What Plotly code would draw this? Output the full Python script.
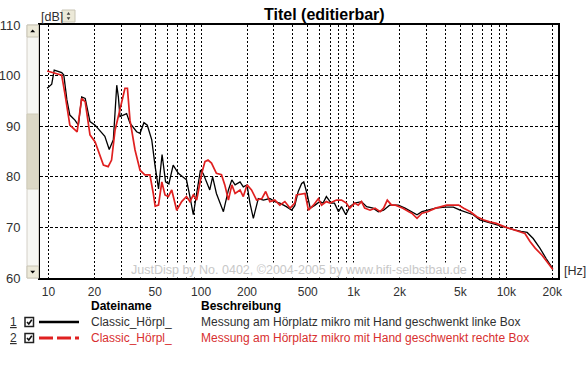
import plotly.graph_objects as go

# ---- data ----
freq_black = [9.8, 10.5, 10.9, 12.2, 12.6, 13.2, 13.8, 14.9, 15.7, 16.5, 17.4, 18.7, 20.2, 21.7, 23.4, 25.0,
              26.6, 28.0, 28.7, 29.4, 32.5, 34.2, 37.8, 39.8, 42.2, 44.4, 47.5, 50.0, 52.6, 55.5, 58.5, 61.5,
              65.6, 70.9, 76.5, 80.2, 84.5, 88.9, 93.5, 99.0, 103, 108.7, 114, 119, 126, 140, 151, 159, 167,
              180, 189, 200, 209, 220, 237, 256, 282, 304, 328, 362, 392, 411, 433, 456, 471, 494, 519, 558,
              600, 630, 662, 712, 748, 795, 832, 888, 942, 1015, 1125, 1215, 1340, 1450, 1570, 1720, 1960,
              2170, 2400, 2600, 2800, 3050, 3440, 3970, 4500, 4980, 5500, 6070, 6700, 7780, 8800, 9950,
              11300, 12500, 13700, 15000, 16600, 18200, 20100]
db_black = [97.5, 98.3, 101.1, 100.6, 100.1, 95.2, 92.2, 91.2, 90.2, 95.8, 95.5, 90.9, 90.2, 89.2, 88.0, 85.4,
            87.3, 98.1, 95.8, 91.9, 92.5, 90.6, 88.9, 88.6, 90.7, 90.2, 87.3, 82.0, 77.6, 84.4, 79.0, 78.6,
            82.3, 80.7, 80.0, 79.4, 76.1, 72.5, 76.7, 81.3, 80.7, 79.0, 77.4, 80.0, 76.7, 73.1, 77.4, 79.4, 78.4,
            79.0, 78.0, 78.4, 74.8, 71.8, 75.7, 75.4, 75.7, 75.1, 74.8, 74.1, 73.4, 74.3, 77.1, 78.7, 79.0, 76.7,
            73.8, 74.4, 75.1, 74.8, 76.1, 74.8, 74.8, 73.1, 74.1, 72.5, 74.1, 74.8, 75.1, 74.1, 73.8, 73.1, 73.4,
            74.4, 74.4, 73.8, 73.1, 72.5, 73.1, 73.4, 73.8, 74.0, 74.0, 73.4, 72.9, 72.5, 71.5, 70.9, 70.5, 70.0,
            69.5, 69.2, 69.0, 67.8, 65.9, 63.9, 61.9]

freq_red = [9.8, 12.2, 12.8, 13.8, 15.4, 16.5, 17.4, 18.7, 20.2, 21.7, 22.9, 24.6, 25.9, 27.3, 29.4, 31.7,
            32.9, 34.2, 36.9, 39.8, 42.8, 46.2, 48.6, 50.0, 52.6, 55.3, 58.0, 61.0, 64.2, 69.2, 74.6, 80.2,
            84.5, 88.9, 93.5, 101, 106, 111, 117, 126, 136, 143, 151, 159, 167, 180, 189, 200, 214, 231, 250,
            265, 282, 304, 328, 354, 383, 411, 421, 480, 505, 545, 587, 616, 662, 700, 770, 832, 895, 942,
            1015, 1070, 1125, 1180, 1280, 1380, 1490, 1570, 1660, 1770, 1880, 2100, 2300, 2400, 2600, 2800,
            3050, 3440, 4080, 4870, 5260, 5810, 6410, 7060, 7780, 8600, 9770, 11070, 11900, 13250, 14300,
            15460, 17150, 18950, 20200]
db_red = [100.9, 100.1, 96.5, 90.2, 88.9, 95.5, 94.8, 88.3, 86.9, 84.3, 82.3, 82.0, 83.3, 89.2, 93.2, 97.5,
          97.5, 91.2, 85.3, 81.3, 80.4, 80.4, 76.7, 74.2, 74.4, 79.0, 76.4, 76.1, 77.4, 73.4, 75.1, 76.1,
          75.1, 76.4, 75.4, 80.7, 83.0, 83.3, 82.7, 80.7, 80.4, 78.4, 75.4, 78.4, 76.7, 77.4, 76.1, 78.4, 77.4,
          75.4, 75.7, 77.1, 75.1, 75.4, 74.4, 75.1, 73.8, 74.8, 76.4, 76.7, 73.4, 74.4, 75.7, 74.4, 75.1, 74.8,
          75.4, 75.4, 74.8, 73.8, 74.8, 74.4, 75.1, 73.8, 73.4, 73.8, 73.1, 73.8, 75.4, 74.4, 74.4, 73.8, 73.1,
          72.8, 71.8, 72.8, 73.1, 73.8, 74.4, 74.4, 73.8, 73.1, 72.1, 71.5, 71.1, 70.8, 70.1, 69.6, 69.3, 68.8,
          67.2, 65.9, 64.5, 62.8, 61.7]

grid_freqs = [m * 10 ** d for d in range(1, 5) for m in range(1, 10) if m * 10 ** d <= 20000]
label_map = {10: "10", 20: "20", 50: "50", 100: "100", 200: "200", 500: "500", 1000: "1k",
             2000: "2k", 5000: "5k", 10000: "10k", 20000: "20k"}
x_ticktext = [label_map.get(f, "") for f in grid_freqs]
y_ticks = [60, 70, 80, 90, 100, 110]

title_text = "Titel (editierbar)"
watermark = "JustDisp by No. 0402, \u00a92004-2005 by www.hifi-selbstbau.de"
col_head = ["Dateiname", "Beschreibung"]
names = ["Classic_H\u00f6rpl_", "Classic_H\u00f6rpl_"]
descs = ["Messung am H\u00f6rplatz mikro mit Hand geschwenkt linke Box",
         "Messung am H\u00f6rplatz mikro mit Hand geschwenkt rechte Box"]

# ---- layout geometry (pixels) ----
W, H = 587, 366
L, R, T, B = 40, 558, 25, 278
def px(x):
    return (x - L) / (R - L)
def py(y):
    return (B - y) / (B - T)

FONT = "Liberation Sans, Arial, sans-serif"
BLACK = "#000000"
RED = "#e02020"
TXT = "#303030"
TXTRED = "#d83030"

fig = go.Figure()
fig.add_trace(go.Scatter(x=freq_black, y=db_black, mode="lines",
                         line=dict(color=BLACK, width=1.3), hoverinfo="skip", showlegend=False))
fig.add_trace(go.Scatter(x=freq_red, y=db_red, mode="lines",
                         line=dict(color=RED, width=1.7), hoverinfo="skip", showlegend=False))

x0 = 1 + (L - 48.5) / 152.6
x1 = 1 + (R - 48.5) / 152.6

fig.update_layout(
    width=W, height=H,
    margin=dict(l=L, r=W - R, t=T, b=H - B, pad=0),
    paper_bgcolor="white", plot_bgcolor="white",
    font=dict(family=FONT, color=TXT, size=12),
    xaxis=dict(type="log", range=[x0, x1], tickvals=grid_freqs, ticktext=x_ticktext,
               showgrid=True, gridcolor="#000000", gridwidth=1, griddash="2px,2px",
               ticks="", showline=True, linecolor="black", linewidth=2, mirror=True,
               tickfont=dict(size=12, color=TXT), ticklabelstandoff=2, zeroline=False,
               automargin=False),
    yaxis=dict(range=[60, 110], tickvals=y_ticks, showgrid=True, gridcolor="#000000",
               gridwidth=1, griddash="3px,2px", ticks="", showline=True, linecolor="black",
               linewidth=2, mirror=True, tickfont=dict(size=13, color=TXT),
               ticklabelstandoff=15, zeroline=False, automargin=False),
)

shapes = []
# scrollbar on the left of the plot
shapes.append(dict(type="rect", xref="paper", yref="paper", x0=px(27), x1=px(38.5), y0=py(278), y1=py(25),
                   fillcolor="#f7f7f3", line=dict(color="#d4d0c8", width=1), layer="above"))
shapes.append(dict(type="rect", xref="paper", yref="paper", x0=px(27), x1=px(38.5), y0=py(189), y1=py(114),
                   fillcolor="#dcd8c6", line=dict(color="#cfcbb8", width=1), layer="above"))
for (ya, yb) in [(25, 37), (266, 278)]:
    shapes.append(dict(type="rect", xref="paper", yref="paper", x0=px(27), x1=px(38.5), y0=py(yb), y1=py(ya),
                       fillcolor="#ece9d8", line=dict(color="#c8c4b4", width=1), layer="above"))
def tri(cx, cy, up, s=2.5):
    if up:
        pts = [(cx - s, cy + 1.2), (cx + s, cy + 1.2), (cx, cy - 1.6)]
    else:
        pts = [(cx - s, cy - 1.2), (cx + s, cy - 1.2), (cx, cy + 1.6)]
    return "M " + " L ".join(f"{px(a):.5f},{py(b):.5f}" for a, b in pts) + " Z"
shapes.append(dict(type="path", xref="paper", yref="paper", path=tri(32.7, 31, True),
                   fillcolor="black", line=dict(width=0), layer="above"))
shapes.append(dict(type="path", xref="paper", yref="paper", path=tri(32.7, 272, False),
                   fillcolor="black", line=dict(width=0), layer="above"))
# spinner next to [dB]
shapes.append(dict(type="rect", xref="paper", yref="paper", x0=px(62), x1=px(75), y0=py(22), y1=py(10),
                   fillcolor="#ece9d8", line=dict(color="#c8c4b4", width=1), layer="above"))
shapes.append(dict(type="path", xref="paper", yref="paper", path=tri(68.5, 13.5, True, 1.8),
                   fillcolor="#404040", line=dict(width=0), layer="above"))
shapes.append(dict(type="path", xref="paper", yref="paper", path=tri(68.5, 18.5, False, 1.8),
                   fillcolor="#404040", line=dict(width=0), layer="above"))

# legend rows
row_y = [322, 338]
for i, yy in enumerate(row_y):
    shapes.append(dict(type="rect", xref="paper", yref="paper", x0=px(25), x1=px(33.5), y0=py(yy + 4.5),
                       y1=py(yy - 4.5), fillcolor="white", line=dict(color="#202020", width=1.5)))
    chk = f"M {px(27):.5f},{py(yy):.5f} L {px(28.8):.5f},{py(yy + 2):.5f} L {px(31.8):.5f},{py(yy - 2.2):.5f}"
    shapes.append(dict(type="path", xref="paper", yref="paper", path=chk,
                       line=dict(color="#101010", width=1.6)))
shapes.append(dict(type="line", xref="paper", yref="paper", x0=px(39), x1=px(79), y0=py(row_y[0]),
                   y1=py(row_y[0]), line=dict(color=BLACK, width=2.5)))
shapes.append(dict(type="line", xref="paper", yref="paper", x0=px(39), x1=px(79), y0=py(row_y[1]),
                   y1=py(row_y[1]), line=dict(color=RED, width=3, dash="14px,4px")))
fig.update_layout(shapes=shapes)

ann = []
def text(x, y, s, size=12, color=TXT, anchor="left", bold=False, bg=None):
    d = dict(xref="paper", yref="paper", x=px(x), y=py(y), text=(f"<b>{s}</b>" if bold else s),
             showarrow=False, xanchor=anchor, yanchor="middle",
             font=dict(family=FONT, size=size, color=color))
    if bg:
        d["bgcolor"] = bg
        d["borderpad"] = 0
    ann.append(d)
text(324, 14, title_text, size=16, color="black", anchor="center", bold=True)
text(39, 17, "[dB]", size=12.5, color=TXT)
text(299, 270, watermark, size=12.5, color="#c8c8c8", anchor="center", bg="white")
text(562, 271, "[Hz]", size=12.5, color=TXT)
text(89, 306, col_head[0], size=12, color="black", bold=True)
text(199, 306, col_head[1], size=12, color="black", bold=True)
for i, yy in enumerate(row_y):
    c = TXT if i == 0 else TXTRED
    text(8, yy, f"<u>{i + 1}</u>", size=12, color=TXT)
    text(89, yy, names[i], size=12, color=c)
    text(199, yy, descs[i], size=12, color=c)
fig.update_layout(annotations=ann)

fig.write_html("out.html", config={"displayModeBar": False},
               post_script="document.body.style.margin='0';document.body.style.overflow='hidden';")
